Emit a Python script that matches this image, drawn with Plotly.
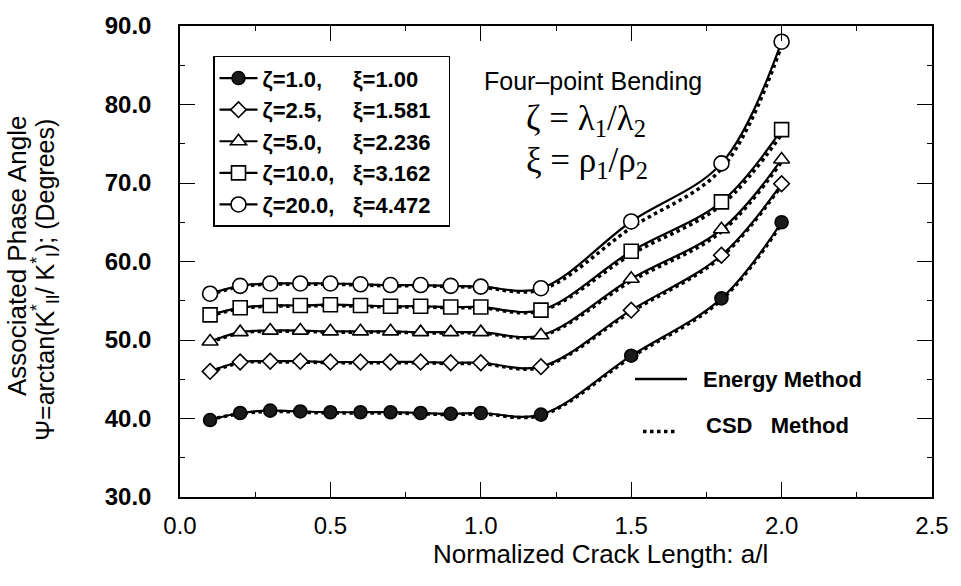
import plotly.graph_objects as go

# ---------------- data ----------------
crack_len = [0.1, 0.2, 0.3, 0.4, 0.5, 0.6, 0.7, 0.8, 0.9, 1.0, 1.2, 1.5, 1.8, 2.0]

energy_z1 = [39.8, 40.7, 41.0, 40.9, 40.8, 40.8, 40.8, 40.7, 40.6, 40.7, 40.5, 48.0, 55.3, 65.0]
energy_z25 = [46.0, 47.2, 47.3, 47.3, 47.2, 47.2, 47.2, 47.2, 47.1, 47.1, 46.6, 53.8, 60.8, 69.9]
energy_z5 = [49.8, 51.0, 51.2, 51.2, 51.1, 51.1, 51.1, 51.0, 51.0, 51.0, 50.6, 57.8, 64.1, 73.0]
energy_z10 = [53.2, 54.1, 54.4, 54.4, 54.5, 54.4, 54.3, 54.3, 54.2, 54.2, 53.8, 61.3, 67.6, 76.8]
energy_z20 = [55.9, 56.9, 57.2, 57.2, 57.2, 57.1, 57.0, 57.0, 56.9, 56.8, 56.6, 65.1, 72.5, 88.0]

csd_z1 = [39.9, 40.6, 40.9, 40.8, 40.7, 40.7, 40.7, 40.6, 40.5, 40.6, 40.4, 47.8, 55.1, 64.8]
csd_z25 = [45.9, 47.1, 47.2, 47.2, 47.1, 47.1, 47.1, 47.1, 47.0, 47.0, 46.5, 53.6, 60.6, 69.7]
csd_z5 = [49.7, 50.9, 51.1, 51.1, 51.0, 51.0, 51.0, 50.9, 50.9, 50.9, 50.5, 57.5, 63.8, 72.7]
csd_z10 = [53.1, 54.0, 54.3, 54.3, 54.4, 54.3, 54.2, 54.2, 54.1, 54.1, 53.7, 60.9, 67.2, 76.2]
csd_z20 = [55.8, 56.8, 57.1, 57.1, 57.1, 57.0, 56.9, 56.9, 56.8, 56.7, 56.4, 64.3, 71.8, 87.5]

NB = "\u00a0"
series_names = [
    "ζ=1.0," + NB * 5 + "ξ=1.00" + NB * 2,
    "ζ=2.5," + NB * 5 + "ξ=1.581" + NB * 2,
    "ζ=5.0," + NB * 5 + "ξ=2.236" + NB * 2,
    "ζ=10.0," + NB * 3 + "ξ=3.162" + NB * 2,
    "ζ=20.0," + NB * 3 + "ξ=4.472" + NB * 2,
]
energy_series = [energy_z1, energy_z25, energy_z5, energy_z10, energy_z20]
csd_series = [csd_z1, csd_z25, csd_z5, csd_z10, csd_z20]

x_ticks = [0.0, 0.5, 1.0, 1.5, 2.0, 2.5]
y_ticks = [30, 40, 50, 60, 70, 80, 90]

# ---------------- styles ----------------
symbols = ["circle", "diamond", "triangle-up", "square", "circle"]
sizes = [13, 12, 14, 14, 15]
fills = ["#1a1a1a", "white", "white", "white", "white"]

FONT = "Liberation Sans, Arial, Helvetica, sans-serif"
SERIF = "Liberation Serif, Times New Roman, serif"

L, R, T, B = 180, 932, 22, 497
W, H = R - L, B - T


def px(xp):
    return (xp - L) / W


def py(yp):
    return 1 - (yp - T) / H


fig = go.Figure()

for name, en, cs, sym, sz, fc in zip(series_names, energy_series, csd_series, symbols, sizes, fills):
    fig.add_trace(go.Scatter(
        x=crack_len, y=cs, mode="lines",
        line=dict(color="black", width=3.5, dash="dot", shape="spline"),
        showlegend=False, hoverinfo="skip"))
    fig.add_trace(go.Scatter(
        x=crack_len, y=en, mode="lines+markers", name=name,
        line=dict(color="black", width=2.2, shape="spline"),
        marker=dict(symbol=sym, size=sz, color=fc,
                    line=dict(color="black", width=1.6))))

fig.update_layout(
    width=961, height=586,
    margin=dict(l=L, r=961 - R, t=T, b=586 - B),
    paper_bgcolor="white", plot_bgcolor="white",
    font=dict(family=FONT, color="black"),
    showlegend=True,
    legend=dict(
        x=px(213), y=py(52), xanchor="left", yanchor="top",
        bgcolor="white", bordercolor="black", borderwidth=1.5,
        font=dict(size=22, family=FONT, weight="bold"),
        traceorder="normal", itemwidth=38,
    ),
)

fig.update_xaxes(
    range=[0, 2.5], tickvals=x_ticks, tickformat=".1f",
    ticks="inside", ticklen=15, tickwidth=1.2, tickcolor="black",
    minor=dict(ticks="inside", ticklen=5, tickcolor="black", dtick=0.25),
    showline=True, linecolor="black", linewidth=1.5, mirror="ticks",
    showgrid=False, zeroline=False,
    tickfont=dict(size=24, family=FONT),
    ticklabelstandoff=6,
)
fig.update_yaxes(
    range=[30, 90], tickvals=y_ticks, tickformat=".1f",
    ticks="inside", ticklen=15, tickwidth=1.2, tickcolor="black",
    minor=dict(ticks="inside", ticklen=5, tickcolor="black", dtick=5),
    showline=True, linecolor="black", linewidth=1.5, mirror="ticks",
    showgrid=False, zeroline=False,
    tickfont=dict(size=24, family=FONT, weight="bold"),
    ticklabelstandoff=22,
)

# x-axis title
fig.add_annotation(xref="paper", yref="paper", x=px(600), y=py(554), xanchor="center", yanchor="middle",
                   text="Normalized Crack Length: a/l", showarrow=False,
                   font=dict(size=26, family=FONT))

# y-axis title (two lines)
fig.add_annotation(xref="paper", yref="paper", x=px(17), y=py(254), xanchor="center", yanchor="middle",
                   text="Associated Phase Angle", textangle=-90, showarrow=False,
                   font=dict(size=26, family=FONT))
fig.add_annotation(xref="paper", yref="paper", x=px(45), y=py(278), xanchor="center", yanchor="middle",
                   text="Ψ=arctan(K<sup>*</sup><sub>II</sub>/ K<sup>*</sup><sub>I</sub>); (Degrees)",
                   textangle=-90, showarrow=False, font=dict(size=25, family=FONT))

# in-plot texts
fig.add_annotation(xref="paper", yref="paper", x=px(482), y=py(77),
                   xanchor="left", yanchor="middle", text="Four–point Bending", showarrow=False,
                   font=dict(size=25, family=FONT))
fig.add_annotation(xref="paper", yref="paper", x=px(524), y=py(117),
                   xanchor="left", yanchor="middle",
                   text="ζ" + NB + "=" + NB + "λ<sub>1</sub>/λ<sub>2</sub>", showarrow=False,
                   font=dict(size=35, family=SERIF))
fig.add_annotation(xref="paper", yref="paper", x=px(524), y=py(160),
                   xanchor="left", yanchor="middle",
                   text="ξ" + NB + "=" + NB + "ρ<sub>1</sub>/ρ<sub>2</sub>", showarrow=False,
                   font=dict(size=35, family=SERIF))

# method key
fig.add_shape(type="line", xref="paper", yref="paper",
              x0=px(635), x1=px(687), y0=py(378), y1=py(378),
              line=dict(color="black", width=2.5))
fig.add_shape(type="line", xref="paper", yref="paper",
              x0=px(643), x1=px(678), y0=py(431), y1=py(431),
              line=dict(color="black", width=3.5, dash="dot"))
fig.add_annotation(xref="paper", yref="paper", x=px(701), y=py(378),
                   xanchor="left", yanchor="middle", text="Energy Method", showarrow=False,
                   font=dict(size=22, family=FONT, weight="bold"))
fig.add_annotation(xref="paper", yref="paper", x=px(704), y=py(425),
                   xanchor="left", yanchor="middle", text="CSD" + NB * 3 + "Method", showarrow=False,
                   font=dict(size=22, family=FONT, weight="bold"))

fig.write_html("out.html")
